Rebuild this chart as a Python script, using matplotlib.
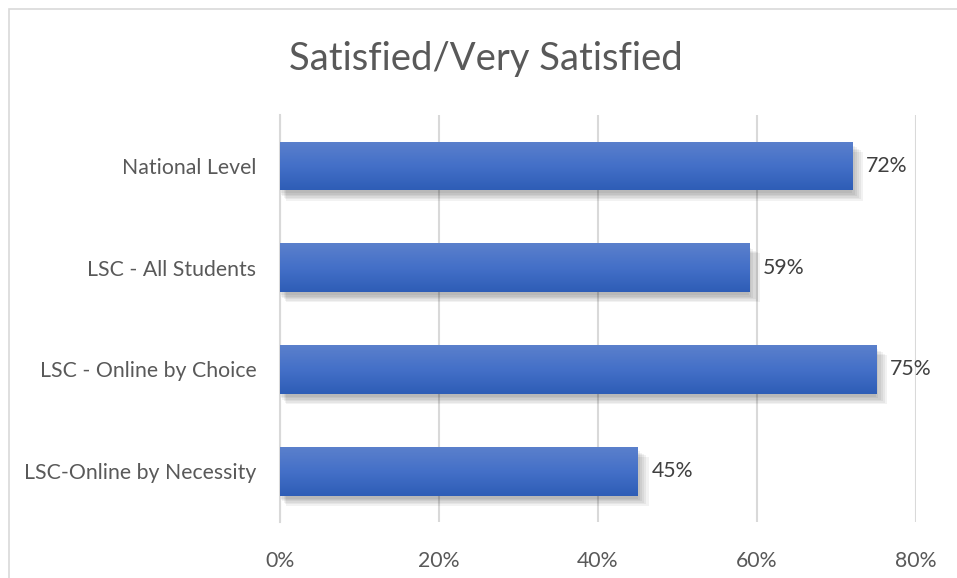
import numpy as np
import matplotlib.pyplot as plt
from matplotlib.patches import Rectangle
from matplotlib.colors import LinearSegmentedColormap

categories = ['National Level', 'LSC - All Students', 'LSC - Online by Choice', 'LSC-Online by Necessity']
values = [0.72, 0.59, 0.75, 0.45]
xticks = [0.0, 0.2, 0.4, 0.6, 0.8]
title = 'Satisfied/Very Satisfied'

plt.rcParams['font.family'] = ['Lato', 'DejaVu Sans']

fig = plt.figure(figsize=(9.57, 5.78), dpi=100)
ax = fig.add_axes([0.2926, 0.0969, 0.6646, 0.704])

# chart frame
fig.patches.append(Rectangle((8.5 / 957, -0.2), 1.2, 1.2 - 8.5 / 578,
                             transform=fig.transFigure, fill=False,
                             edgecolor='#d9d9d9', linewidth=1.2))

y = np.arange(len(categories))
bar_h = 0.48

# soft shadow under each bar
for k in range(6):
    off = 0.015 + k * 0.007
    ax.barh(y + off * 2.0, [v + 0.0012 * k for v in values], height=bar_h,
            left=0.0015 * k, color='black', alpha=0.05, zorder=2, linewidth=0)

bars = ax.barh(y, values, height=bar_h, color='#4472c4', zorder=3, linewidth=0)

# vertical gradient fill clipped to each bar
grad = np.linspace(0, 1, 256).reshape(-1, 1)
cmap = LinearSegmentedColormap.from_list('bar', ['#5b80cc', '#4470c8', '#2e5db6'])
for b in bars:
    x0, y0 = b.get_x(), b.get_y()
    w, h = b.get_width(), b.get_height()
    im = ax.imshow(grad, extent=[x0, x0 + w, y0 + h, y0], cmap=cmap,
                   aspect='auto', zorder=4, interpolation='bicubic')
    im.set_clip_path(b)

for yi, v in zip(y, values):
    ax.text(v + 0.017, yi, f'{v:.0%}', va='center', ha='left',
            fontsize=15.3, color='#404040', zorder=5)

ax.set_xlim(0, 0.8)
ax.set_ylim(len(categories) - 0.5, -0.5)
ax.set_xticks(xticks)
ax.set_xticklabels([f'{t:.0%}' for t in xticks])
ax.set_yticks(y)
ax.set_yticklabels(categories)
ax.tick_params(axis='both', length=0, labelsize=15.3, colors='#595959')
ax.tick_params(axis='x', pad=21)
ax.tick_params(axis='y', pad=17)
ax.grid(axis='x', color='#d9d9d9', linewidth=1.5, zorder=0)
ax.set_axisbelow(True)
for s in ['top', 'right', 'bottom']:
    ax.spines[s].set_visible(False)
ax.spines['left'].set_color('#d9d9d9')
ax.spines['left'].set_linewidth(1.5)

fig.text(0.508, 0.898, title, ha='center', va='center', fontsize=27.5, color='#595959')

fig.savefig('out.png', dpi=100, facecolor='white')
